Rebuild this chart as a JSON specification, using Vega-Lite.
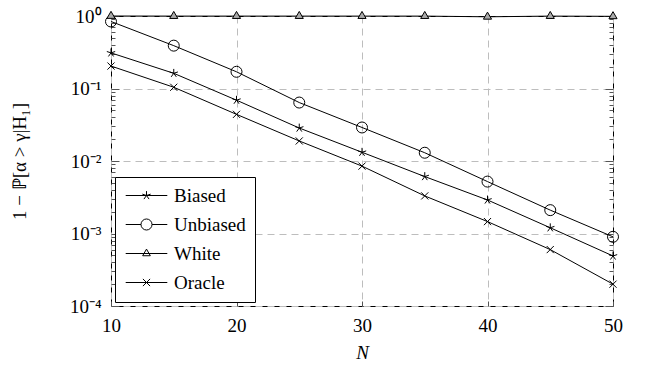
{
  "$schema": "https://vega.github.io/schema/vega-lite/v6.json",
  "width": 502,
  "height": 290,
  "autosize": {"type": "none"},
  "padding": {"left": 111, "top": 16, "right": 39, "bottom": 67},
  "background": "white",
  "config": {
    "view": {"stroke": "black", "strokeWidth": 1},
    "font": "Liberation Serif",
    "axis": {
      "domain": false,
      "labelFont": "Liberation Serif",
      "labelFontSize": 19,
      "labelColor": "black",
      "labelFlush": false,
      "titleFont": "Liberation Serif",
      "titleFontSize": 19,
      "titleFontWeight": "normal",
      "titleColor": "black",
      "gridColor": "#bdbdbd",
      "gridDash": [7, 5],
      "gridWidth": 1,
      "tickColor": "#555555"
    },
    "legend": {
      "labelFont": "Liberation Serif",
      "labelFontSize": 19,
      "labelColor": "black"
    }
  },
  "data": {
    "values": [
      {"N": 10, "series": "Biased", "p": 0.31},
      {"N": 15, "series": "Biased", "p": 0.162},
      {"N": 20, "series": "Biased", "p": 0.069},
      {"N": 25, "series": "Biased", "p": 0.0285},
      {"N": 30, "series": "Biased", "p": 0.0132},
      {"N": 35, "series": "Biased", "p": 0.0061},
      {"N": 40, "series": "Biased", "p": 0.0029},
      {"N": 45, "series": "Biased", "p": 0.0012},
      {"N": 50, "series": "Biased", "p": 0.00049},
      {"N": 10, "series": "Unbiased", "p": 0.84},
      {"N": 15, "series": "Unbiased", "p": 0.39},
      {"N": 20, "series": "Unbiased", "p": 0.17},
      {"N": 25, "series": "Unbiased", "p": 0.064},
      {"N": 30, "series": "Unbiased", "p": 0.029},
      {"N": 35, "series": "Unbiased", "p": 0.013},
      {"N": 40, "series": "Unbiased", "p": 0.0052},
      {"N": 45, "series": "Unbiased", "p": 0.0021},
      {"N": 50, "series": "Unbiased", "p": 0.0009},
      {"N": 10, "series": "White", "p": 1.0},
      {"N": 15, "series": "White", "p": 0.997},
      {"N": 20, "series": "White", "p": 0.997},
      {"N": 25, "series": "White", "p": 0.997},
      {"N": 30, "series": "White", "p": 0.997},
      {"N": 35, "series": "White", "p": 0.997},
      {"N": 40, "series": "White", "p": 0.975},
      {"N": 45, "series": "White", "p": 0.997},
      {"N": 50, "series": "White", "p": 0.99},
      {"N": 10, "series": "Oracle", "p": 0.204},
      {"N": 15, "series": "Oracle", "p": 0.104},
      {"N": 20, "series": "Oracle", "p": 0.044},
      {"N": 25, "series": "Oracle", "p": 0.0189},
      {"N": 30, "series": "Oracle", "p": 0.0085},
      {"N": 35, "series": "Oracle", "p": 0.0033},
      {"N": 40, "series": "Oracle", "p": 0.00146},
      {"N": 45, "series": "Oracle", "p": 0.0006},
      {"N": 50, "series": "Oracle", "p": 0.0002}
    ]
  },
  "resolve": {"scale": {"shape": "independent"}, "axis": {"y": "independent"}},
  "layer": [
    {
      "mark": {"type": "line", "color": "black", "strokeWidth": 1},
      "encoding": {
        "x": {
          "field": "N", "type": "quantitative",
          "scale": {"domain": [10, 50], "nice": false},
          "axis": {
            "values": [10, 20, 30, 40, 50],
            "title": "N",
            "titleFontStyle": "italic",
            "titlePadding": 8,
            "tickSize": -5,
            "labelPadding": 15,
            "grid": true
          }
        },
        "y": {
          "field": "p", "type": "quantitative",
          "scale": {"type": "log", "domain": [0.0001, 1], "nice": false},
          "axis": {
            "orient": "left",
            "title": "1 − ℙ[α > γ|H₁]",
            "titlePadding": 40,
            "values": [0.0001, 0.0002, 0.0003, 0.0004, 0.0005, 0.0006, 0.0007, 0.0008, 0.0009,
                       0.001, 0.002, 0.003, 0.004, 0.005, 0.006, 0.007, 0.008, 0.009,
                       0.01, 0.02, 0.03, 0.04, 0.05, 0.06, 0.07, 0.08, 0.09,
                       0.1, 0.2, 0.3, 0.4, 0.5, 0.6, 0.7, 0.8, 0.9, 1],
            "labelExpr": "abs(log(datum.value)/LN10 - round(log(datum.value)/LN10)) > 0.001 ? '' : round(log(datum.value)/LN10) == 0 ? '10⁰' : round(log(datum.value)/LN10) == -1 ? '10⁻¹' : round(log(datum.value)/LN10) == -2 ? '10⁻²' : round(log(datum.value)/LN10) == -3 ? '10⁻³' : '10⁻⁴'",
            "tickSize": {"condition": {"test": "abs(log(datum.value)/LN10 - round(log(datum.value)/LN10)) < 0.001", "value": -8}, "value": -4},
            "labelPadding": 18,
            "grid": true,
            "gridOpacity": {"condition": {"test": "abs(log(datum.value)/LN10 - round(log(datum.value)/LN10)) < 0.001", "value": 1}, "value": 0}
          }
        },
        "detail": {"field": "series"}
      }
    },
    {
      "mark": {"type": "point", "filled": false, "stroke": "black", "strokeWidth": 1, "size": 121, "opacity": 1},
      "encoding": {
        "x": {"field": "N", "type": "quantitative"},
        "y": {"field": "p", "type": "quantitative", "scale": {"type": "log", "domain": [0.0001, 1], "nice": false}, "axis": null},
        "shape": {
          "field": "series",
          "scale": {
            "domain": ["Biased", "Unbiased", "White", "Oracle"],
            "range": [
              "M0,0L0,-0.8M0,0L-0.76,-0.25M0,0L-0.47,0.65M0,0L0.47,0.65M0,0L0.76,-0.25",
              "M1,0A1,1,0,1,1,-1,0A1,1,0,1,1,1,0Z",
              "M0,-0.85L-0.74,0.43L0.74,0.43Z",
              "M-0.65,-0.65L0.65,0.65M-0.65,0.65L0.65,-0.65"
            ]
          },
          "legend": null
        },
        "fill": {
          "field": "series",
          "scale": {"domain": ["Biased", "Unbiased", "White", "Oracle"], "range": ["transparent", "transparent", "#aaaaaa", "transparent"]},
          "legend": null
        }
      }
    },
    {
      "mark": {"type": "point", "filled": false, "stroke": "black", "strokeWidth": 1, "size": 0},
      "encoding": {
        "x": {"field": "N", "type": "quantitative"},
        "y": {
          "field": "p", "type": "quantitative",
          "scale": {"type": "log", "domain": [0.0001, 1], "nice": false},
          "axis": {
            "orient": "right",
            "title": null,
            "labels": false,
            "grid": false,
            "values": [0.0001, 0.0002, 0.0003, 0.0004, 0.0005, 0.0006, 0.0007, 0.0008, 0.0009,
                       0.001, 0.002, 0.003, 0.004, 0.005, 0.006, 0.007, 0.008, 0.009,
                       0.01, 0.02, 0.03, 0.04, 0.05, 0.06, 0.07, 0.08, 0.09,
                       0.1, 0.2, 0.3, 0.4, 0.5, 0.6, 0.7, 0.8, 0.9, 1],
            "tickSize": {"condition": {"test": "abs(log(datum.value)/LN10 - round(log(datum.value)/LN10)) < 0.001", "value": -8}, "value": -4}
          }
        },
        "shape": {
          "field": "series",
          "scale": {
            "domain": ["Biased", "Unbiased", "White", "Oracle"],
            "range": [
              "M-2.6,0L2.6,0M0,0L0,-0.55M0,0L-0.52,-0.17M0,0L-0.32,0.45M0,0L0.32,0.45M0,0L0.52,-0.17",
              "M-2.6,0L-0.69,0M0.69,0L2.6,0M0.69,0A0.69,0.69,0,1,1,-0.69,0A0.69,0.69,0,1,1,0.69,0Z",
              "M-2.6,0L2.6,0M0,-0.55L-0.48,0.28L0.48,0.28Z",
              "M-2.6,0L2.6,0M-0.45,-0.45L0.45,0.45M-0.45,0.45L0.45,-0.45"
            ]
          },
          "legend": {
            "title": null,
            "orient": "bottom-left",
            "offset": 4,
            "padding": 9,
            "strokeColor": "black",
            "fillColor": "white",
            "symbolSize": 256,
            "symbolStrokeColor": "black",
            "symbolFillColor": "transparent",
            "symbolStrokeWidth": 1,
            "symbolOpacity": 1,
            "symbolOffset": 13,
            "labelOffset": 18,
            "rowPadding": 9
          }
        }
      }
    }
  ]
}
